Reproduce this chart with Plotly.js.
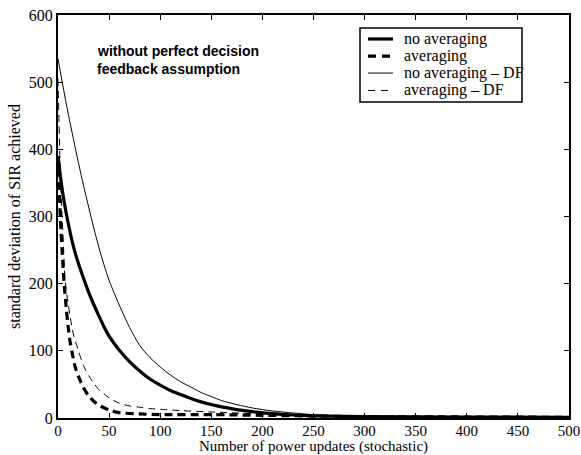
<!DOCTYPE html>
<html>
<head>
<meta charset="utf-8">
<script src="https://cdn.plot.ly/plotly-3.0.1.min.js"></script>
<style>html,body{margin:0;padding:0;background:#fff;}#chart{width:581px;height:455px;}</style>
</head>
<body>
<div id="chart"></div>
<script>
// Series: no averaging (thick solid)
const xNoAvg = [0, 3, 6, 10, 15, 20, 25, 30, 35, 40, 45, 50, 55, 60, 70, 80, 90, 100, 110, 120, 130, 140, 150, 160, 175, 190, 210, 230, 250, 300, 400, 500];
const yNoAvg = [390, 352, 322, 290, 256, 230, 208, 187, 169, 152, 136, 122, 111, 101, 84, 70, 58, 49, 41, 35, 29, 24, 20, 16.5, 12.5, 9.5, 6.5, 4.5, 3.3, 2, 1.5, 1];

// Series: averaging (thick dashed)
const xAvg = [0, 1, 2, 3, 4, 6, 8, 10, 12, 14, 17, 20, 25, 30, 35, 40, 50, 60, 80, 100, 150, 200, 300, 400, 500];
const yAvg = [390, 350, 310, 275, 250, 200, 165, 135, 112, 96, 75, 62, 45, 33, 25, 19, 12, 8, 6, 5, 5, 4, 2, 1.5, 1];

// Series: no averaging - DF (thin solid)
const xNoAvgDF = [0, 5, 10, 15, 20, 25, 30, 35, 40, 45, 50, 55, 60, 70, 80, 90, 100, 110, 120, 130, 140, 150, 160, 175, 190, 210, 230, 250, 270, 300, 350, 400, 500];
const yNoAvgDF = [535, 493, 453, 416, 380, 346, 314, 283, 254, 228, 205, 186, 168, 135, 108, 90, 76, 64, 54, 46, 38, 32, 26, 20, 15, 10.5, 7.5, 5, 3.5, 2.2, 1.5, 1.2, 1];

// Series: averaging - DF (thin dashed)
const xAvgDF = [0, 1, 2, 3, 4, 5, 7, 10, 12, 15, 20, 25, 30, 35, 40, 45, 50, 60, 70, 80, 90, 100, 120, 150, 200, 250, 300, 400, 500];
const yAvgDF = [505, 440, 380, 335, 300, 270, 205, 170, 150, 125, 100, 78, 63, 52, 42, 36, 30, 22, 18, 16, 14, 13, 11, 9, 6, 4, 2, 1.5, 1];

const seriesNames = ["no averaging", "averaging", "no averaging \u2013 DF", "averaging \u2013 DF"];
const xTicks = [0, 50, 100, 150, 200, 250, 300, 350, 400, 450, 500];
const yTicks = [0, 100, 200, 300, 400, 500, 600];

const serif = "Liberation Serif, Times New Roman, serif";
const sans = "Liberation Sans, Arial, sans-serif";

const styles = [
  {color: "#000", width: 3.2, dash: "solid"},
  {color: "#000", width: 3.2, dash: "8px,5px"},
  {color: "#000", width: 1, dash: "solid"},
  {color: "#000", width: 1, dash: "7px,5px"}
];
const xs = [xNoAvg, xAvg, xNoAvgDF, xAvgDF];
const ys = [yNoAvg, yAvg, yNoAvgDF, yAvgDF];

const traces = xs.map((x, i) => ({
  x: x, y: ys[i], name: seriesNames[i], mode: "lines", showlegend: false,
  line: Object.assign({shape: "spline", smoothing: 0.8}, styles[i])
}));

// Hand-built legend (box, samples, labels) in paper coordinates
const legendBox = {x0: 0.591, x1: 0.908, y0: 0.784, y1: 0.968};
const legendRowsY = [0.9405, 0.898, 0.856, 0.8127];
const legendSampleDash = ["solid", "8px,6px", "solid", "7px,6px"];
const shapes = [{
  type: "rect", xref: "paper", yref: "paper",
  x0: legendBox.x0, x1: legendBox.x1, y0: legendBox.y0, y1: legendBox.y1,
  line: {color: "#000", width: 1.5}, fillcolor: "#fff", layer: "above"
}];
const annotations = [];
legendRowsY.forEach((yy, i) => {
  shapes.push({type: "line", xref: "paper", yref: "paper", x0: 0.6067, x1: 0.6556, y0: yy, y1: yy,
    line: {color: "#000", width: styles[i].width, dash: legendSampleDash[i]}, layer: "above"});
  annotations.push({xref: "paper", yref: "paper", x: 0.6732, y: yy, xanchor: "left", yanchor: "middle",
    text: seriesNames[i], showarrow: false, font: {family: serif, size: 16, color: "#000"}});
});
annotations.push({xref: "paper", yref: "paper", x: 0.0724, y: 0.9107, xanchor: "left", yanchor: "middle",
  text: "<b>without perfect decision</b>", showarrow: false, font: {family: sans, size: 14, color: "#000"}});
annotations.push({xref: "paper", yref: "paper", x: 0.0724, y: 0.866, xanchor: "left", yanchor: "middle",
  text: "<b>feedback assumption</b>", showarrow: false, font: {family: sans, size: 14, color: "#000"}});

const layout = {
  width: 581, height: 455,
  margin: {l: 58, r: 12, t: 15, b: 37},
  paper_bgcolor: "#fff", plot_bgcolor: "#fff",
  showlegend: false,
  font: {family: serif, size: 16, color: "#000"},
  xaxis: {
    range: [0, 500], tickvals: xTicks, ticktext: xTicks.map(String),
    ticks: "inside", ticklen: 5, tickwidth: 1, tickcolor: "#000",
    showline: true, linecolor: "#000", linewidth: 2, mirror: "ticks",
    showgrid: false, zeroline: false,
    tickfont: {family: serif, size: 15, color: "#000"}, ticklabelstandoff: -2,
    title: {text: "Number of power updates (stochastic)", font: {family: serif, size: 15, color: "#000"}, standoff: 6}
  },
  yaxis: {
    range: [0, 600], tickvals: yTicks, ticktext: yTicks.map(String),
    ticks: "inside", ticklen: 5, tickwidth: 1, tickcolor: "#000",
    showline: true, linecolor: "#000", linewidth: 2, mirror: "ticks",
    showgrid: false, zeroline: false,
    tickfont: {family: serif, size: 16, color: "#000"},
    title: {text: "standard deviation of SIR achieved", font: {family: serif, size: 16, color: "#000"}, standoff: 4}
  },
  shapes: shapes,
  annotations: annotations
};

Plotly.newPlot("chart", traces, layout, {displayModeBar: false, staticPlot: true});
</script>
</body>
</html>
